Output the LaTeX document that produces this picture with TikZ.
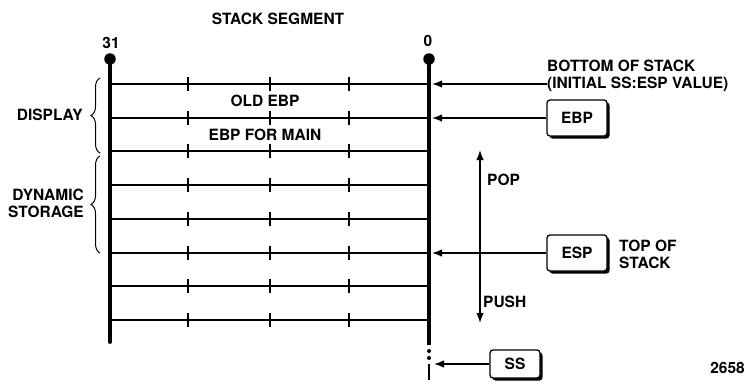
\documentclass[tikz,border=0pt]{standalone}
\usepackage{fontspec}
\setmainfont{TeX Gyre Heros}
\usetikzlibrary{arrows.meta,shadows,decorations.pathreplacing}

\begin{document}
\begin{tikzpicture}[x=1pt, y=-1pt,
  lbl/.style={font=\fontsize{15.5}{17}\selectfont\bfseries, inner sep=0pt},
  reg/.style={lbl, draw, line width=1.3pt, rounded corners=3pt, fill=white,
              minimum width=60pt, minimum height=36pt,
              drop shadow={shadow xshift=2.5pt, shadow yshift=-2.5pt,
                           fill=black, opacity=1}},
  arr/.style={-{Latex[length=10pt,width=7.5pt]}, line width=1.4pt},
  dbl/.style={{Latex[length=10pt,width=7.5pt]}-{Latex[length=10pt,width=7.5pt]}, line width=1.4pt},
  row/.style={line width=1.6pt},
  brc/.style={decorate, decoration={brace, amplitude=9pt}, line width=1pt}
]
\useasboundingbox (0,0) rectangle (746,383);

% the stack frame
\draw[line width=3.8pt, line cap=round] (110,59) -- (110,342);
\draw[line width=4.2pt] (429,59) -- (429,345);
\fill (429,351) circle (2);
\fill (429,358) circle (2);
\draw[line width=2.8pt] (429,364) -- (429,380);
\node[circle, fill, inner sep=0pt, minimum size=11.5pt] (b31) at (110,59) {};
\node[circle, fill, inner sep=0pt, minimum size=11.5pt] (b0)  at (429,59) {};

\foreach \y [count=\i] in {84,118,151,185,219,253,286,320} {
  \draw[row] (110,\y) -- (429,\y);
  \foreach \x in {188,270,349}
    \draw[row] (\x,\y-7) -- (\x,\y+7);
  \coordinate (e\i) at (432,\y);
}
\coordinate (ssend)   at (434,364);
\coordinate (popend)  at (480,150);
\coordinate (pushend) at (480,323);

\node[lbl] (title)  at (278,19)  {STACK SEGMENT};
\node[lbl] (n31)    at (111,43)  {31};
\node[lbl] (n0)     at (428,41)  {0};
\node[lbl] (oldebp) at (265,101) {OLD EBP};
\node[lbl] (ebpmain) at (265,135) {EBP FOR MAIN};

\node[lbl, anchor=east] (display) at (83,115) {DISPLAY};
\node[lbl, anchor=east, align=right] (dynstore) at (84,203) {DYNAMIC\\STORAGE};
\draw[brc] (100,153) -- (100,78);
\draw[brc] (100,253) -- (100,156);

\node[lbl, anchor=west, align=left] (bottom) at (547,76)
  {BOTTOM OF STACK\\(INITIAL SS:ESP VALUE)};
\node[reg] (ebp) at (577,118) {EBP};
\node[reg] (esp) at (577,253) {ESP};
\node[reg, minimum width=50pt, minimum height=28pt] (ss) at (515,364) {SS};
\node[lbl, anchor=west, align=left] (tos) at (619,254) {TOP OF\\STACK};
\node[lbl, anchor=west] (pop)  at (487,180) {POP};
\node[lbl, anchor=west] (push) at (483,302) {PUSH};
\node[lbl, anchor=east] (fig)  at (745,368) {2658};

\draw[arr] (bottom.west |- e1) -- (e1);
\draw[arr] (ebp.west) -- (e2);
\draw[arr] (esp.west) -- (e6);
\draw[arr] (ss.west) -- (ssend);
\draw[dbl] (pushend) -- (popend);
\end{tikzpicture}
\end{document}
